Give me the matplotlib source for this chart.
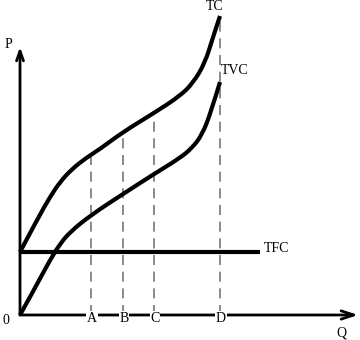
import numpy as np
import matplotlib
matplotlib.use("Agg")
import matplotlib.pyplot as plt
from matplotlib.path import Path
from matplotlib.patches import PathPatch

# Data (units: arbitrary output Q and cost P)
tvc_q = [0, 15, 30, 40, 50, 71, 103, 134, 160, 172, 182, 191, 200]
tvc_p = [0, 27, 55, 71, 83, 100, 121, 141, 157, 167, 180, 203, 233]
tc_q = [0, 18, 30, 40, 52, 66, 80, 103, 134, 160, 173, 185, 193, 200]
tc_p = [63, 97, 118, 133, 146, 157, 166, 183, 202, 219, 232, 252, 278, 299]
tfc = 63
tfc_end = 240
marks = ["A", "B", "C", "D"]
mark_q = [71, 103, 134, 200]

fig = plt.figure(figsize=(3.6, 3.4), dpi=100)
ax = fig.add_axes([0, 0, 1, 1])
ax.set_xlim(-20, 340)
ax.set_ylim(-25, 315)
ax.axis("off")

font = dict(family="Liberation Serif", fontsize=10, color="black")


def smooth_curve(xs, ys):
    """Quadratic B-spline path drawn through the data points."""
    pts = list(zip(xs, ys))
    verts = [pts[0]]
    codes = [Path.MOVETO]
    for i in range(1, len(pts) - 1):
        if i < len(pts) - 2:
            end = ((pts[i][0] + pts[i + 1][0]) / 2, (pts[i][1] + pts[i + 1][1]) / 2)
        else:
            end = pts[-1]
        verts += [pts[i], end]
        codes += [Path.CURVE3, Path.CURVE3]
    return PathPatch(Path(verts, codes), fc="none", ec="black", lw=3,
                     capstyle="butt", joinstyle="round", zorder=2)


# dashed guides
for q in mark_q:
    top = np.interp(q, tc_q, tc_p)
    ax.plot([q, q], [0, top], color="#777777", lw=1.2, ls=(0, (6, 4)), zorder=1)

# axes with open arrowheads
ax.annotate("", xy=(0, 268), xytext=(0, 0),
            arrowprops=dict(arrowstyle="->,head_length=0.7,head_width=0.25", lw=2, color="black",
                            shrinkA=0, shrinkB=0), zorder=3)
ax.annotate("", xy=(338, 0), xytext=(0, 0),
            arrowprops=dict(arrowstyle="->,head_length=0.9,head_width=0.3", lw=2, color="black",
                            shrinkA=0, shrinkB=0), zorder=3)

# curves
ax.plot([0, tfc_end], [tfc, tfc], color="black", lw=3, solid_capstyle="butt", zorder=2)
ax.add_patch(smooth_curve(tvc_q, tvc_p))
ax.add_patch(smooth_curve(tc_q, tc_p))

# labels
ax.text(-12, 271, "P", ha="center", va="center", **font)
ax.text(-14, -5, "0", ha="center", va="center", **font)
ax.text(321, -18, "Q", ha="center", va="center", **font)
for m, q in zip(marks, mark_q):
    ax.text(q + 1, -3, m, ha="center", va="center", zorder=4,
            bbox=dict(boxstyle="square,pad=0.05", fc="white", ec="none"), **font)
ax.text(195, 308, "TC", ha="center", va="center", **font)
ax.text(215, 245, "TVC", ha="center", va="center", **font)
ax.text(257, 67, "TFC", ha="center", va="center", **font)

fig.savefig("out.png", dpi=100)
